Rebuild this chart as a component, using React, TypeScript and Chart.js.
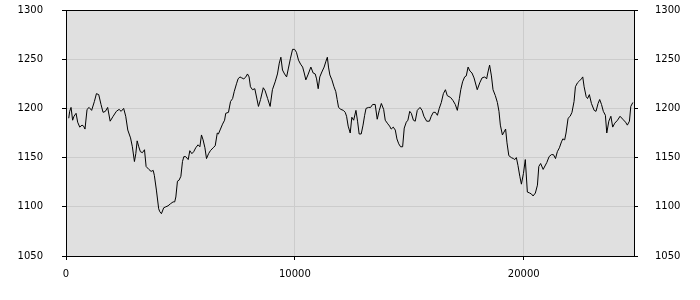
import { useEffect, useRef } from "react";
import { Chart, registerables } from "chart.js";

Chart.register(...registerables);

const xValues = [
  120, 160, 220, 290, 350, 440, 510, 600, 700, 770, 830, 920, 1010, 1120, 1240, 1330, 1430, 1530, 1620, 1720,
  1820, 1930, 2060, 2200, 2320, 2410, 2520, 2610, 2700, 2820, 2900, 2990, 3050, 3110, 3180, 3250, 3340, 3430, 3500, 3620,
  3720, 3810, 3860, 3950, 4050, 4100, 4170, 4270, 4360, 4460, 4560, 4680, 4750, 4800, 4870, 4940, 5020, 5090, 5150, 5230,
  5340, 5410, 5500, 5580, 5670, 5770, 5850, 5920, 5990, 6070, 6140, 6230, 6310, 6430, 6520, 6610, 6660, 6750, 6840, 6930,
  6980, 7100, 7190, 7280, 7350, 7450, 7520, 7600, 7680, 7770, 7860, 7930, 8000, 8060, 8150, 8250, 8410, 8500, 8620, 8700,
  8810, 8920, 9020, 9140, 9240, 9320, 9390, 9460, 9550, 9640, 9720, 9810, 9900, 9990, 10070, 10160, 10250, 10340, 10410, 10480,
  10570, 10700, 10800, 10890, 10950, 11020, 11090, 11180, 11280, 11360, 11420, 11470, 11530, 11620, 11710, 11790, 11850, 11910, 12010, 12120,
  12200, 12260, 12330, 12420, 12490, 12570, 12670, 12740, 12810, 12900, 12980, 13050, 13110, 13220, 13310, 13400, 13510, 13600, 13690, 13780,
  13880, 13950, 14040, 14140, 14210, 14300, 14390, 14460, 14540, 14620, 14710, 14780, 14870, 14940, 15020, 15090, 15180, 15260, 15350, 15470,
  15560, 15640, 15760, 15880, 15960, 16050, 16140, 16230, 16310, 16400, 16490, 16580, 16660, 16810, 16910, 17010, 17100, 17190, 17250, 17330,
  17420, 17490, 17570, 17650, 17740, 17830, 17970, 18080, 18180, 18300, 18380, 18440, 18510, 18590, 18660, 18760, 18850, 18920, 18980, 19070,
  19140, 19210, 19270, 19350, 19460, 19550, 19610, 19680, 19750, 19830, 19900, 19990, 20070, 20160, 20260, 20340, 20410, 20510, 20600, 20660,
  20740, 20850, 21010, 21110, 21210, 21300, 21390, 21470, 21560, 21650, 21710, 21790, 21850, 21940, 22030, 22110, 22200, 22260, 22350, 22440,
  22520, 22580, 22640, 22730, 22790, 22870, 22960, 23080, 23160, 23250, 23320, 23400, 23480, 23570, 23630, 23720, 23810, 23890, 23980, 24100,
  24210, 24330, 24450, 24530, 24620, 24680, 24770,
];

const yValues = [
  1190, 1197, 1201, 1188, 1192, 1195, 1186, 1181, 1183, 1182, 1179, 1199, 1201, 1198, 1207, 1215, 1214, 1204, 1196, 1197,
  1201, 1187, 1192, 1197, 1199, 1197, 1200, 1192, 1178, 1170, 1161, 1146, 1154, 1167, 1161, 1156, 1155, 1158, 1141, 1138,
  1136, 1137, 1132, 1117, 1098, 1095, 1093, 1099, 1100, 1101, 1103, 1105, 1105, 1110, 1126, 1127, 1131, 1146, 1151, 1151,
  1148, 1157, 1154, 1156, 1160, 1163, 1161, 1173, 1168, 1160, 1149, 1154, 1157, 1160, 1162, 1175, 1174, 1179, 1184, 1188,
  1195, 1196, 1207, 1210, 1217, 1225, 1230, 1232, 1231, 1230, 1232, 1235, 1232, 1222, 1219, 1220, 1202, 1209, 1221, 1218,
  1210, 1202, 1219, 1227, 1235, 1246, 1252, 1239, 1235, 1232, 1241, 1251, 1260, 1260, 1257, 1249, 1245, 1242, 1236, 1229,
  1234, 1242, 1236, 1235, 1230, 1220, 1232, 1237, 1242, 1248, 1252, 1242, 1234, 1229, 1222, 1217, 1209, 1201, 1199, 1198,
  1196, 1192, 1182, 1175, 1191, 1188, 1198, 1187, 1174, 1174, 1183, 1193, 1200, 1201, 1201, 1204, 1204, 1189, 1198, 1205,
  1199, 1188, 1185, 1182, 1179, 1181, 1178, 1169, 1164, 1161, 1161, 1180, 1186, 1188, 1197, 1195, 1188, 1187, 1198, 1201,
  1198, 1192, 1187, 1187, 1192, 1196, 1196, 1193, 1200, 1206, 1215, 1219, 1213, 1211, 1208, 1204, 1198, 1210, 1219, 1227,
  1232, 1233, 1242, 1238, 1236, 1231, 1219, 1226, 1231, 1232, 1230, 1237, 1244, 1233, 1219, 1213, 1206, 1197, 1183, 1173,
  1176, 1179, 1165, 1152, 1150, 1149, 1148, 1150, 1142, 1131, 1123, 1134, 1148, 1115, 1114, 1113, 1111, 1114, 1122, 1141,
  1144, 1138, 1145, 1151, 1153, 1153, 1149, 1156, 1160, 1166, 1169, 1168, 1175, 1190, 1192, 1196, 1207, 1222, 1226, 1228,
  1230, 1232, 1222, 1212, 1210, 1214, 1205, 1198, 1197, 1205, 1209, 1204, 1197, 1193, 1175, 1187, 1192, 1181, 1185, 1188,
  1192, 1189, 1186, 1183, 1187, 1202, 1206,
];

const xTicks = [0, 10000, 20000];
const yTicks = [1050, 1100, 1150, 1200, 1250, 1300];
const xMin = 0;
const xMax = 24820;
const yMin = 1050;
const yMax = 1300;

const tickFont = { family: "DejaVu Sans", size: 10 };

const framePlugin = {
  id: "frame",
  beforeDraw(chart: any) {
    const { ctx, chartArea: a } = chart;
    ctx.save();
    ctx.fillStyle = "#e0e0e0";
    ctx.fillRect(a.left, a.top, a.right - a.left, a.bottom - a.top);
    ctx.restore();
  },
  afterDraw(chart: any) {
    const { ctx, chartArea: a } = chart;
    ctx.save();
    ctx.strokeStyle = "#000";
    ctx.lineWidth = 1;
    ctx.strokeRect(
      Math.round(a.left) + 0.5,
      Math.round(a.top) + 0.5,
      Math.round(a.right - a.left),
      Math.round(a.bottom - a.top)
    );
    ctx.restore();
  },
};

const fitVertical = (s: any) => {
  s.width = 66;
  s.paddingTop = 0;
  s.paddingBottom = 0;
};

export default function App() {
  const canvasRef = useRef<HTMLCanvasElement | null>(null);

  useEffect(() => {
    document.body.style.margin = "0";
    const canvas = canvasRef.current;
    if (!canvas) return;
    const points = xValues.map((x, i) => ({ x, y: yValues[i] }));
    const chart = new Chart(canvas, {
      type: "line",
      data: {
        datasets: [
          {
            data: points,
            borderColor: "#000",
            borderWidth: 1,
            pointRadius: 0,
            tension: 0,
            fill: false,
            yAxisID: "y",
          },
        ],
      },
      options: {
        animation: false,
        responsive: false,
        devicePixelRatio: 1,
        layout: { padding: { top: 10, left: 0, right: 0, bottom: 0 } },
        plugins: { legend: { display: false }, tooltip: { enabled: false } },
        scales: {
          x: {
            type: "linear",
            min: xMin,
            max: xMax,
            afterFit: (s: any) => {
              s.height = 44;
              s.paddingLeft = 0;
              s.paddingRight = 0;
            },
            afterBuildTicks: (s: any) => {
              s.ticks = xTicks.map((v) => ({ value: v }));
            },
            ticks: {
              font: tickFont,
              color: "#000",
              padding: 8,
              maxRotation: 0,
              autoSkip: false,
              includeBounds: false,
              callback: (v: any) => String(v),
            },
            grid: { color: "#cccccc", tickColor: "#000", tickLength: 4 },
            border: { display: false },
          },
          y: {
            type: "linear",
            position: "left",
            min: yMin,
            max: yMax,
            afterFit: fitVertical,
            afterBuildTicks: (s: any) => {
              s.ticks = yTicks.map((v) => ({ value: v }));
            },
            ticks: {
              font: tickFont,
              color: "#000",
              padding: 19,
              autoSkip: false,
              callback: (v: any) => String(v),
            },
            grid: { color: "#cccccc", tickColor: "#000", tickLength: 4 },
            border: { display: false },
          },
          y2: {
            type: "linear",
            position: "right",
            min: yMin,
            max: yMax,
            afterFit: fitVertical,
            afterBuildTicks: (s: any) => {
              s.ticks = yTicks.map((v) => ({ value: v }));
            },
            ticks: {
              font: tickFont,
              color: "#000",
              padding: 17,
              autoSkip: false,
              callback: (v: any) => String(v),
            },
            grid: { drawOnChartArea: false, tickColor: "#000", tickLength: 4 },
            border: { display: false },
          },
        },
      },
      plugins: [framePlugin],
    });
    return () => chart.destroy();
  }, []);

  return (
    <div style={{ width: 700, height: 300 }}>
      <canvas ref={canvasRef} width={700} height={300} style={{ display: "block" }} />
    </div>
  );
}
